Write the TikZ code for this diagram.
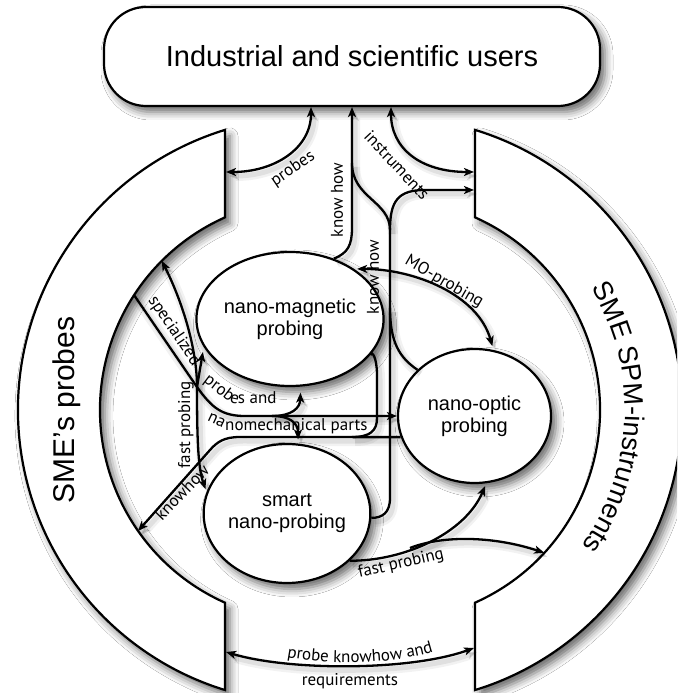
\documentclass[tikz,border=0pt]{standalone}
\usepackage{fontspec}
\setmainfont{Liberation Sans}
\newfontfamily\lblfont{PT Sans}
\newcommand\lblsize{\lblfont\fontsize{17}{17}\selectfont}
\usetikzlibrary{arrows.meta,shapes.geometric,decorations.text,shadows.blur}
\begin{document}
\begin{tikzpicture}[x=1pt,y=1pt,
  shp/.style={draw=black, line width=2.2pt, fill=white,
    blur shadow={shadow xshift=5pt, shadow yshift=-6pt, shadow blur radius=8pt, shadow opacity=60}},
  lsh/.style={preaction={draw=black, opacity=0.05, line width=10pt, transform canvas={xshift=3pt,yshift=-4pt}},
              preaction={draw=black, opacity=0.07, line width=5pt, transform canvas={xshift=3pt,yshift=-4pt}}},
  con/.style={lsh, line width=2.3pt, -{Stealth[length=10pt,width=8pt,inset=2.5pt]}},
  dcon/.style={lsh, line width=2.3pt, {Stealth[length=10pt,width=8pt,inset=2.5pt]}-{Stealth[length=10pt,width=8pt,inset=2.5pt]}},
  pl/.style={lsh, line width=2.3pt},
  lbl/.style={font=\lblsize, inner sep=0pt},
  blob/.style={shp, ellipse, minimum width=153pt, minimum height=134pt, inner sep=0pt, align=center, font=\fontsize{20}{22}\selectfont},
]
\clip (0,0) rectangle (677,693);
\fill[white] (0,0) rectangle (677,693);

% bands
\path[shp] (225,563.1) arc[start angle=107.07, end angle=252.93, radius=293] -- (225,90.3)
  arc[start angle=245.95, end angle=114.05, radius=211] -- cycle;
\path[shp] (475,563.1) arc[start angle=72.93, end angle=-72.93, radius=293] -- (475,90.3)
  arc[start angle=-65.95, end angle=65.95, radius=211] -- cycle;

\node[font=\fontsize{30}{30}\selectfont, rotate=90] (lbandtxt) at (67,283) {SME's probes};
\path[decorate, decoration={text along path, text align=center,
   text={|\fontsize{27}{27}\selectfont|SME SPM-instruments}}]
   (389,283) ++(58:236) arc[start angle=58, end angle=-62, radius=236];

% top box
\node[shp, rounded corners=42pt, minimum width=496pt, minimum height=99pt,
  font=\fontsize{29}{29}\selectfont] (box) at (352,636.5) {Industrial and scientific users};

% circles
\node[blob] (nm) at (290,374) {nano-magnetic\\probing};
\node[blob] (no) at (474.5,277) {nano-optic\\probing};
\node[blob, minimum width=150pt, minimum height=139pt] (sm) at (287,179.5) {smart\\nano-probing};

% named free ends
\coordinate (lb0) at (226,521);
\coordinate (rb0) at (474,521);
\coordinate (rb1) at (474,503);
\coordinate (lb1) at (134,398);
\coordinate (lb2) at (161.8,432.2);
\coordinate (lb3) at (138,162);
\coordinate (rb2) at (544.3,140.2);
\coordinate (lb4) at (226,41);
\coordinate (rb4) at (474,45);
\coordinate (fsplit) at (390,463);
\coordinate (kmerge) at (352,530);
\coordinate (jn) at (197,306);
\coordinate (bsplit) at (272,277);
\coordinate (fp) at (410,145);

% probes / instruments
\draw[dcon] (lb0) .. controls (275,521) and (311,545) .. ([xshift=-41pt]box.south);
\draw[dcon] ([xshift=39pt]box.south) .. controls (391,545) and (420,521) .. (rb0);

% know how 1
\draw[con] (nm.54) .. controls (348,440) and (352,448) .. (352,465) -- (box.south);
% know how 2
\draw[pl] (sm.-3) .. controls (382,175) and (390,180) .. (390,195) -- (fsplit);
\draw[pl] (fsplit) .. controls (390,492) and (352,495) .. (kmerge);
\draw[con] (fsplit) .. controls (390,492) and (398,503) .. (425,503) -- (rb1);
\draw[pl] (no.141) .. controls (400,335) and (390,350) .. (390,385);

% MO-probing
\draw[dcon, shorten <=3pt, shorten >=4pt] (nm.38) .. controls (415,424) and (478,398) .. (no.74);

% specialized probes and nanomechanical parts
\draw[con] (lb1) -- (jn) .. controls (212,285) and (222,277) .. (245,277) -- (no.west);
\draw[con, shorten >=6pt] (bsplit) .. controls (292,277) and (300,285) .. (nm.-81);
\draw[con, shorten >=4pt] (bsplit) .. controls (290,277) and (298,270) .. (sm.81);
\draw[con, shorten >=5pt] (jn) -- (nm.198);

% fast probing (left)
\draw[dcon, shorten >=3pt] (lb2) .. controls (182,392) and (197,345) .. (jn)
   .. controls (197,255) and (198,225) .. (sm.165);

% knowhow to SME's probes
\draw[pl] (nm.-24) .. controls (372,343) and (377,335) .. (377,318) -- (377,275)
   .. controls (377,262) and (370,256) .. (352,256);
\draw[con] (no.196) -- (240,256) .. controls (224,256) and (217,251) .. (210,243) -- (lb3);

% fast probing (bottom)
\draw[con, shorten >=3pt] (sm.-37) .. controls (405,132) and (465,160) .. (no.-80);
\draw[con] (fp) .. controls (440,157) and (490,158) .. (rb2);

% bottom
\draw[dcon] (lb4) .. controls (290,22) and (410,22) .. (rb4);

% labels
\node[lbl, rotate=34] (tprobes) at (293,524) {probes};
\node[lbl, rotate=-47] (tinstr) at (397,528) {instruments};
\node[lbl, rotate=90] (tkh1) at (337,493) {know how};
\node[lbl, rotate=90] (tkh2) at (373,416) {know how};
\node[lbl, rotate=-30] (tmo) at (444,411) {MO-probing};
\node[lbl, rotate=-56] (tspec) at (174,362) {specialized};
\node[lbl, rotate=90] (tfast1) at (186,268) {fast probing};
\node[lbl, rotate=46] (tkh3) at (182,201) {knowhow};
\node[lbl, rotate=13] (tfast2) at (401,129) {fast probing};
\node[lbl] (treq) at (350,12) {requirements};
\path[decorate, decoration={text along path, text={|\lblsize|probes and}}]
   (203,311) -- (228,292) .. controls (231,290) and (234,289) .. (240,289) -- (320,289);
\node[lbl, rotate=-25, anchor=base east] (tna) at (223,264.5) {na};
\node[lbl, anchor=base west] (tnano) at (225,262) {nomechanical parts};
\path[decorate, decoration={text along path, text align=center, text={|\lblsize|probe knowhow and}}]
   (276,38) .. controls (320,27) and (400,27) .. (444,45);
\end{tikzpicture}
\end{document}
